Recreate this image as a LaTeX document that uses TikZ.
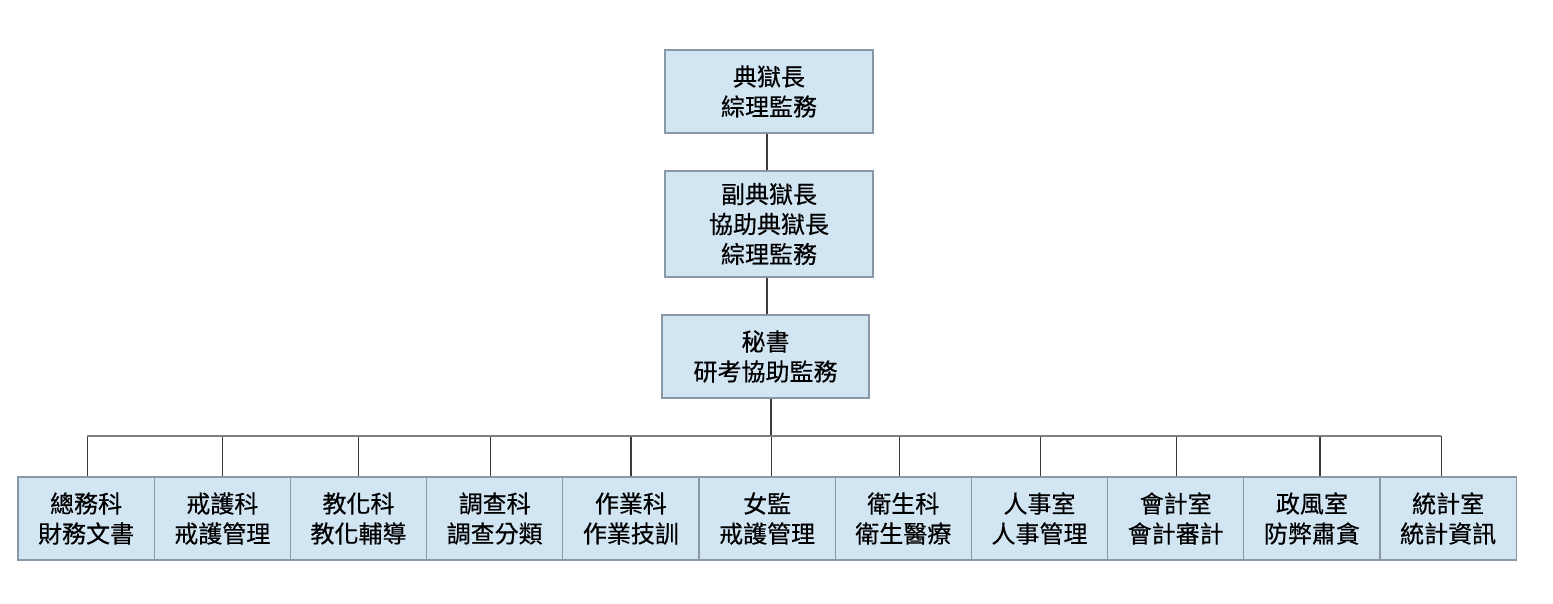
\documentclass[tikz,border=0pt]{standalone}
\usepackage{fontspec}
\setmainfont[FakeBold=0.4]{Noto Sans CJK TC}
\definecolor{boxfill}{HTML}{D2E5F3}
\definecolor{boxline}{HTML}{8A98A6}
\definecolor{barline}{HTML}{7F7F7F}
\definecolor{conline}{HTML}{3A3A3A}
\begin{document}
\begin{tikzpicture}[x=1pt,y=-1pt,
  box/.style={draw=boxline, fill=boxfill, line width=1.2pt, inner sep=0pt,
    align=center, font=\fontsize{24}{30}\selectfont, text=black},
  unit/.style={box, minimum width=136.2pt, minimum height=83pt},
  conn/.style={draw=conline, line width=1.2pt},
  barsty/.style={draw=barline, line width=2pt}]
\useasboundingbox (0,0) rectangle (1553,603);
\node[box, minimum width=208pt, minimum height=83pt] (t1) at (769,91.5) {典獄長\\綜理監務};
\node[box, minimum width=208pt, minimum height=106pt] (t2) at (769,224) {副典獄長\\協助典獄長\\綜理監務};
\node[box, minimum width=207pt, minimum height=83pt] (t3) at (765.5,356.5) {秘書\\研考協助監務};
\foreach \i/\t in {1/{總務科\\財務文書},2/{戒護科\\戒護管理},3/{教化科\\教化輔導},4/{調查科\\調查分類},5/{作業科\\作業技訓},6/{女監\\戒護管理},7/{衛生科\\衛生醫療},8/{人事室\\人事管理},9/{會計室\\會計審計},10/{政風室\\防弊肅貪},11/{統計室\\統計資訊}}
  \node[unit] (b\i) at ({18+136.2*(\i-0.5)},518.5) {\t};
\coordinate (barL) at (87,436);
\coordinate (barR) at (1441,436);
\draw[conn] ([xshift=-2pt]t1.south) -- ([xshift=-2pt]t1.south |- t2.north);
\draw[conn] ([xshift=-2pt]t2.south) -- ([xshift=-2pt]t2.south |- t3.north);
\draw[conn] ([xshift=5.5pt]t3.south) -- ([xshift=5.5pt]t3.south |- barL);
\foreach \i/\d in {1/1,2/0,3/0,4/-4,5/0,6/4,7/-4,8/1,9/1,10/8,11/-7}
  \draw[conn] ([xshift=\d pt]b\i.north) -- ([xshift=\d pt]b\i.north |- barL);
\draw[barsty] (barL) -- (barR);
\end{tikzpicture}
\end{document}
